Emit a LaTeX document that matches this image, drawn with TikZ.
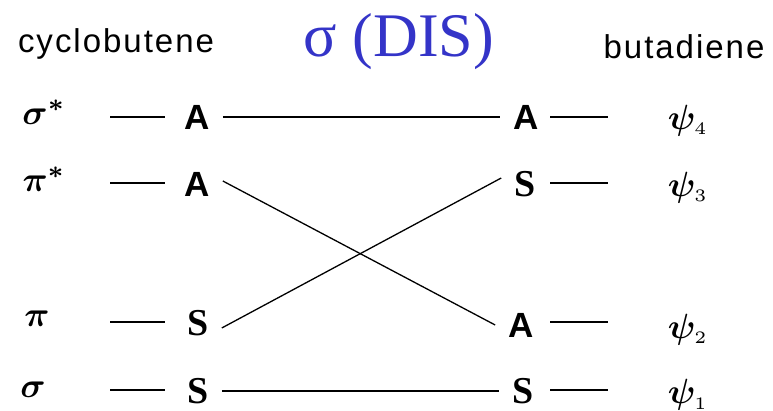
\documentclass[tikz,border=0pt]{standalone}
\usepackage{fontspec}
\usepackage{amsmath}
\usepackage{bm}
\usepackage{graphicx}
\newfontfamily\headsans[LetterSpace=6]{Liberation Sans}
\newfontfamily\symsans{Liberation Sans}
\newfontfamily\symserif{Liberation Serif}
\definecolor{titleblue}{RGB}{52,52,200}
\newcommand{\orbsym}[1]{\scalebox{3.5}{$#1$}}
\tikzset{
  head/.style={font=\headsans\fontsize{33}{36}\selectfont, inner sep=0pt},
  title/.style={font=\symserif\fontsize{62}{66}\selectfont, text=titleblue, inner sep=0pt},
  orb/.style={inner sep=0pt},
  symA/.style={font=\symsans\bfseries\fontsize{35}{38}\selectfont, inner xsep=13pt, inner ysep=0pt},
  symS/.style={font=\symserif\bfseries\fontsize{38}{40}\selectfont, inner xsep=13pt, inner ysep=0pt},
  level/.style={line width=2.6pt},
  corr/.style={line width=1.3pt}
}
\begin{document}
\begin{tikzpicture}[x=1pt,y=-1pt]
\useasboundingbox (0,0) rectangle (773,411);

% headings
\node[head] (hl) at (116,44) {cyclobutene};
\node[title] (ht) at (399,42) {σ (DIS)};
\node[head] (hr) at (684,47) {butadiene};

% cyclobutene orbitals
\node[orb] (o1) at (44,112) {\orbsym{\bm{\sigma}^{\bm *}}};
\node[orb] (o2) at (44,179) {\orbsym{\bm{\pi}^{\bm *}}};
\node[orb] (o3) at (37,319) {\orbsym{\bm{\pi}}};
\node[orb] (o4) at (33,390) {\orbsym{\bm{\sigma}}};

% symmetry letters, cyclobutene side
\node[symA] (la1) at (197,117) {A};
\node[symA] (la2) at (197,184) {A};
\node[symS] (la3) at (198,323) {S};
\node[symS] (la4) at (198,391) {S};

% symmetry letters, butadiene side
\node[symA] (ra1) at (526,117) {A};
\node[symS] (ra2) at (525,184) {S};
\node[symA] (ra3) at (521,325) {A};
\node[symS] (ra4) at (523,391) {S};

% butadiene orbitals
\node[orb] (p4) at (688,121) {\orbsym{\bm{\psi}_{\scriptscriptstyle 4}}};
\node[orb] (p3) at (688,188) {\orbsym{\bm{\psi}_{\scriptscriptstyle 3}}};
\node[orb] (p2) at (688,330) {\orbsym{\bm{\psi}_{\scriptscriptstyle 2}}};
\node[orb] (p1) at (688,395) {\orbsym{\bm{\psi}_{\scriptscriptstyle 1}}};

% energy levels
\foreach \n/\y in {1/117,2/183,3/322,4/390}{
  \draw[level] (110,\y) -- (165,\y);
  \draw[level] (550,\y) -- (608,\y);
}

% correlation lines
\draw[corr] (la1.east) -- (ra1.west);
\draw[corr] (la4.east) -- (ra4.west);
\draw[corr] ([yshift=3pt]la2.east) -- (ra3.west);
\draw[corr] ([yshift=-5pt]la3.east) -- ([yshift=6pt]ra2.west);
\end{tikzpicture}
\end{document}
